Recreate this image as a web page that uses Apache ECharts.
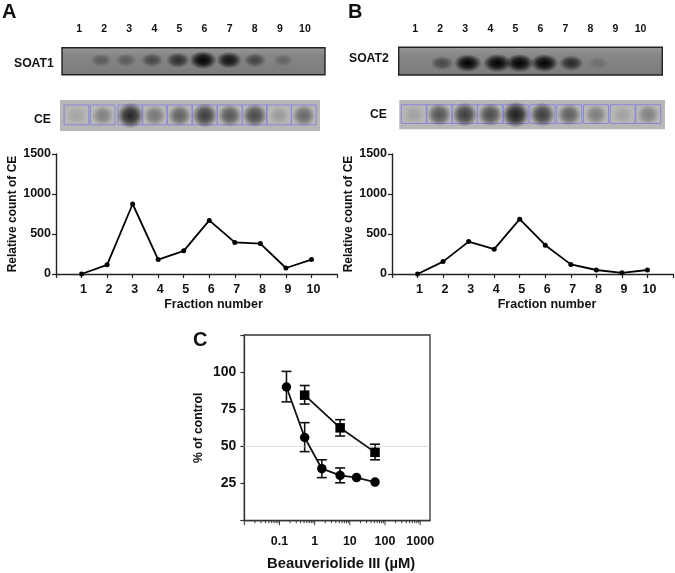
<!DOCTYPE html>
<html><head><meta charset="utf-8">
<style>html,body{margin:0;padding:0;background:#fff}#c{width:675px;height:573px}</style>
<script src="https://cdn.jsdelivr.net/npm/echarts@6/dist/echarts.min.js"></script>
</head><body><div id="c"></div>
<script>
var fractions = [1,2,3,4,5,6,7,8,9,10];
var ceCountA = [0,115,875,180,290,670,395,380,75,180];
var ceCountB = [0,155,405,310,685,360,120,50,15,50];

var soat1Lanes = [1.88,2.87,3.91,4.94,5.94,6.98,8.01,9.13];
var soat1Bands = [0.28,0.28,0.42,0.6,1,0.8,0.45,0.22];
var soat2Lanes = [2.07,3.1,4.28,5.17,6.16,7.23,8.3];
var soat2Bands = [0.4,0.92,1,1,0.95,0.6,0.14];
var ceALanes = [0.99,2.03,3.13,4.09,5.08,6.08,7.07,8.06,9.02,10.01];
var ceASpots = [0.12,0.35,0.95,0.42,0.55,0.8,0.62,0.72,0.18,0.52];
var ceBLanes = [1,2,3,4,5,6.05,7.1,8.15,9.2,10.2];
var ceBSpots = [0.14,0.65,0.8,0.7,1,0.8,0.58,0.38,0.14,0.36];

var doseCircle = [0.158,0.52,1.6,5.3,15.5,52];
var pctCircle = [90,56,35,30.5,29,26];
var pctCircleHi = [100.5,66,41,35.5,null,null];
var pctCircleLo = [80,46.5,29,25.5,null,null];
var doseSquare = [0.52,5.3,52];
var pctSquare = [84.5,62.5,46];
var pctSquareHi = [91,68,51.5];
var pctSquareLo = [78.5,57,41];
var halfMax = 50;
var logMajorTicks = [0.01,0.1,1,10,100,1000];
var logMinorFactors = [2,3,4,5,6,7,8,9];
var logTickLabels = ['0.1','1','10','100','1000'];

var FONT = '"Liberation Sans", Arial, sans-serif';
var INK = '#222';

var grids = [], xAxes = [], yAxes = [], series = [];

function fractionChart(left, values, namePad){
  var i = grids.length;
  grids.push({left:left, width:281, top:154, height:120, outerBoundsMode:'none'});
  xAxes.push({gridIndex:i, type:'value', min:0, max:11, interval:1,
    splitLine:{show:false},
    axisLine:{onZero:false, lineStyle:{color:INK,width:1.4}},
    axisTick:{length:4, lineStyle:{color:INK,width:1.2}},
    axisLabel:{margin:9,color:'#111',fontFamily:FONT,fontWeight:'bold',fontSize:12.5,padding:[0,0,0,4],
      formatter:function(v){return fractions.indexOf(v)>=0?String(v):'';}},
    name:'Fraction number', nameLocation:'middle', nameGap:24,
    nameTextStyle:{color:'#111',fontFamily:FONT,fontWeight:'bold',fontSize:12.5,padding:[0,0,0,namePad]}});
  yAxes.push({gridIndex:i, type:'value', min:0, max:1500, interval:500,
    splitLine:{show:false},
    axisLine:{show:true,lineStyle:{color:INK,width:1.4}},
    axisTick:{show:true,length:4,lineStyle:{color:INK,width:1.2}},
    axisLabel:{margin:5,color:'#111',fontFamily:FONT,fontWeight:'bold',fontSize:12.5,
      formatter:function(v){return String(v);}},
    name:'Relative count of CE', nameLocation:'middle', nameGap:37,
    nameTextStyle:{color:'#111',fontFamily:FONT,fontWeight:'bold',fontSize:12}});
  series.push({type:'line', xAxisIndex:i, yAxisIndex:i, symbol:'circle', symbolSize:5,
    data:fractions.map(function(f,k){return [f,values[k]];}),
    lineStyle:{color:'#000',width:1.8}, itemStyle:{color:'#000'}, clip:false, animation:false});
}

function softFill(alpha, shade){
  return {type:'radial',x:0.5,y:0.5,r:0.5,colorStops:[
    {offset:0,color:'rgba('+shade+','+shade+','+shade+','+alpha+')'},
    {offset:0.5,color:'rgba('+shade+','+shade+','+shade+','+(alpha*0.75)+')'},
    {offset:1,color:'rgba('+shade+','+shade+','+shade+',0)'}]};
}

function blot(rect, labels, lanes, strength, opt){
  var i = grids.length;
  grids.push({show:true,left:rect[0],width:rect[1]-rect[0],top:rect[2],height:rect[3]-rect[2],outerBoundsMode:'none',
    backgroundColor:opt.bg, borderColor:opt.border, borderWidth:opt.bw});
  xAxes.push({gridIndex:i,type:'value',min:opt.min,max:opt.max,position:'top',
    axisLine:{show:false},axisTick:{show:false},splitLine:{show:false},
    axisLabel:{show:labels,margin:opt.margin||12,customValues:fractions,color:'#111',
      fontFamily:FONT,fontWeight:'bold',fontSize:10.5,hideOverlap:false,showMinLabel:true,showMaxLabel:true}});
  yAxes.push({gridIndex:i,type:'value',min:0,max:1,show:false});
  series.push({type:'custom',xAxisIndex:i,yAxisIndex:i,clip:true,animation:false,silent:true,
    data:lanes.map(function(l,k){return [l,strength[k]];}),
    renderItem:function(p,api){
      var c = api.coord([api.value(0),opt.cy]);
      var s = api.value(1);
      var kids = [{type:'circle',shape:{cx:0,cy:0,r:1},x:c[0],y:c[1],
        scaleX:opt.rx*(0.75+0.35*s),scaleY:opt.ry*(0.7+0.45*s),
        style:{fill:softFill(Math.min(1,s*opt.gain),opt.shade)}}];
      if(opt.box){
        var a = api.coord([api.value(0)-0.49,0.84]);
        var b = api.coord([api.value(0)+0.49,0.2]);
        kids.unshift({type:'rect',shape:{x:a[0],y:a[1],width:b[0]-a[0],height:b[1]-a[1]},
          style:{fill:'none',stroke:'#8a87d8',lineWidth:1}});
      }
      return {type:'group',children:kids};
    }});
}

var soatBg = {type:'linear',x:0,y:0,x2:0,y2:1,colorStops:[{offset:0,color:'#9a9a9a'},{offset:0.3,color:'#868686'},{offset:1,color:'#7b7b7b'}]};
blot([62,325,47.7,74.7],true,soat1Lanes,soat1Bands,{bg:soatBg,border:'#222',bw:1.4,min:0.32,max:10.8,cy:0.54,rx:12.5,ry:8,gain:1.1,shade:0,margin:13});
blot([398.7,662.3,47.3,75],true,soat2Lanes,soat2Bands,{bg:soatBg,border:'#222',bw:1.4,min:0.34,max:10.87,cy:0.43,rx:13,ry:8,gain:1.15,shade:0,margin:13});
blot([60,320,100,131],false,ceALanes,ceASpots,{bg:'#b7b7b7',border:'#b7b7b7',bw:0,min:0.337,max:10.65,cy:0.5,rx:12.5,ry:11.5,gain:0.95,shade:20,box:true});
blot([399.3,665,100,129.3],false,ceBLanes,ceBSpots,{bg:'#b7b7b7',border:'#b7b7b7',bw:0,min:0.43,max:10.86,cy:0.5,rx:12.5,ry:11.5,gain:0.95,shade:20,box:true});

fractionChart(56, ceCountA, 34);
fractionChart(392, ceCountB, 29);

/* panel C */
var ci = grids.length;
grids.push({show:true,left:244.3,width:185.7,top:335,height:185.7,outerBoundsMode:'none',borderColor:'#333',borderWidth:1.3,backgroundColor:'#fff'});
xAxes.push({gridIndex:ci,type:'log',logBase:10,min:0.01,max:1900,
  axisLine:{onZero:false,lineStyle:{color:'#333',width:1.3}},
  axisTick:{show:false},splitLine:{show:false},minorTick:{show:false},
  axisLabel:{margin:14,color:'#111',fontFamily:FONT,fontWeight:'bold',fontSize:12.5,hideOverlap:false,
    formatter:function(v){var s=String(+(+v).toPrecision(3));return logTickLabels.indexOf(s)>=0?s:'';}},
  name:'Beauveriolide III (\u00b5M)',nameLocation:'middle',nameGap:36,
  nameTextStyle:{color:'#111',fontFamily:FONT,fontWeight:'bold',fontSize:14.8,padding:[0,0,0,8]}});
yAxes.push({gridIndex:ci,type:'value',min:0,max:125,interval:25,
  axisLine:{show:true,lineStyle:{color:'#333',width:1.3}},
  axisTick:{show:true,length:4,lineStyle:{color:'#333',width:1.2}},
  splitLine:{show:false},
  axisLabel:{margin:8,color:'#111',fontFamily:FONT,fontWeight:'bold',fontSize:14,
    formatter:function(v){return (v===0||v===125)?'':String(v);}},
  name:'% of control',nameLocation:'middle',nameGap:40,
  nameTextStyle:{color:'#111',fontFamily:FONT,fontWeight:'bold',fontSize:12.2}});

var tickRows = [];
logMajorTicks.forEach(function(m){
  tickRows.push([m,4.5]);
  if(m<1000) logMinorFactors.forEach(function(f){tickRows.push([+(m*f).toPrecision(3),2.5]);});
});
series.push({type:'custom',xAxisIndex:ci,yAxisIndex:ci,clip:false,silent:true,animation:false,data:tickRows,
  renderItem:function(p,api){
    var c=api.coord([api.value(0),0]);
    return {type:'line',shape:{x1:c[0],y1:c[1],x2:c[0],y2:c[1]+api.value(1)},style:{stroke:'#333',lineWidth:1}};
  }});
series.push({type:'line',xAxisIndex:ci,yAxisIndex:ci,symbol:'none',silent:true,animation:false,
  data:[[0.01,halfMax],[1900,halfMax]],lineStyle:{color:'#bdbdbd',width:1,type:'dotted'}});

function errorBars(xs,hi,lo){
  var rows=[];
  xs.forEach(function(x,k){ if(hi[k]!=null) rows.push([x,lo[k],hi[k]]); });
  series.push({type:'custom',xAxisIndex:ci,yAxisIndex:ci,clip:false,silent:true,animation:false,z:3,data:rows,
    renderItem:function(p,api){
      var a=api.coord([api.value(0),api.value(1)]), b=api.coord([api.value(0),api.value(2)]);
      var st={stroke:'#111',lineWidth:1.6};
      return {type:'group',children:[
        {type:'line',shape:{x1:a[0],y1:a[1],x2:b[0],y2:b[1]},style:st},
        {type:'line',shape:{x1:a[0]-5,y1:a[1],x2:a[0]+5,y2:a[1]},style:st},
        {type:'line',shape:{x1:b[0]-5,y1:b[1],x2:b[0]+5,y2:b[1]},style:st}]};
    }});
}
errorBars(doseCircle,pctCircleHi,pctCircleLo);
errorBars(doseSquare,pctSquareHi,pctSquareLo);
function doseLine(xs,ys,sym,size){
  series.push({type:'line',xAxisIndex:ci,yAxisIndex:ci,symbol:sym,symbolSize:size,z:4,animation:false,
    data:xs.map(function(x,k){return [x,ys[k]];}),
    lineStyle:{color:'#111',width:1.8},itemStyle:{color:'#000'}});
}
doseLine(doseCircle,pctCircle,'circle',9.5);
doseLine(doseSquare,pctSquare,'rect',9.5);

function label(t,x,y,size,align){
  return {type:'text',x:x,y:y,style:{text:t,fill:'#111',font:'bold '+size+'px '+FONT,align:align||'left',verticalAlign:'middle'}};
}
var chart = echarts.init(document.getElementById('c'),null,{renderer:'canvas'});
chart.setOption({
  animation:false, backgroundColor:'#fff',
  grid:grids, xAxis:xAxes, yAxis:yAxes, series:series,
  graphic:{elements:[
    label('A',2,12,20),label('B',348,12,20),label('C',193,340,20),
    label('SOAT1',14,64,12.2),label('CE',34,120,12.2),
    label('SOAT2',349,59,12.2),label('CE',370,115,12.2)
  ]}
});
</script></body></html>
